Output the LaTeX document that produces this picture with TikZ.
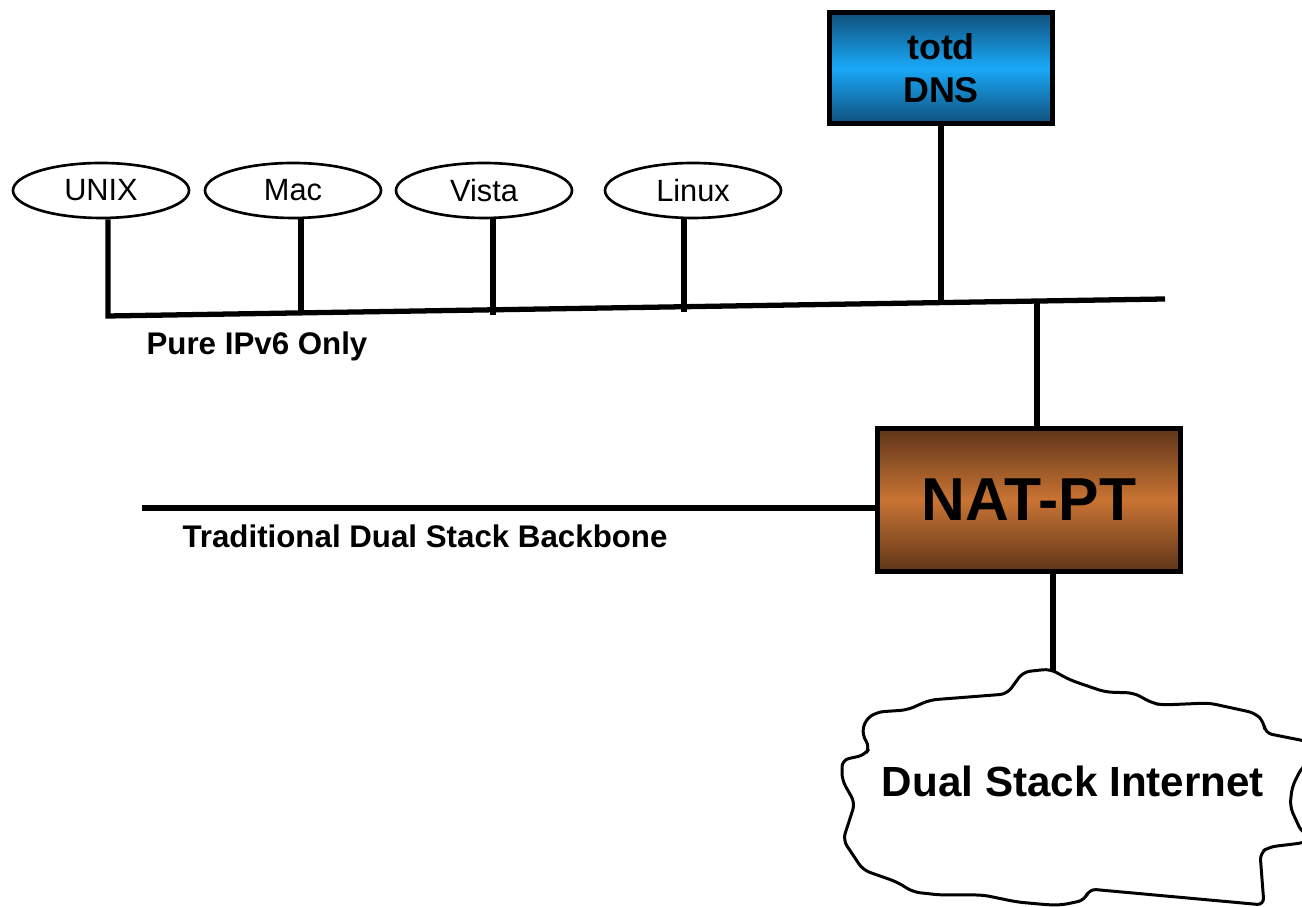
\documentclass[tikz,border=0pt]{standalone}
\usepackage{fontspec}
\setmainfont{Liberation Sans}
\usetikzlibrary{shapes.geometric,calc}
\definecolor{dnsedge}{HTML}{10507C}
\definecolor{dnsmid}{HTML}{1AA9F8}
\definecolor{natedge}{HTML}{5E3519}
\definecolor{natmid}{HTML}{C97433}
\tikzset{
  host/.style={draw, ellipse, line width=1.5pt, minimum width=3.52cm,
    minimum height=1.10cm, inner sep=0pt, font=\fontsize{17.5}{21}\selectfont},
  wire/.style={line width=3pt},
  netlabel/.style={anchor=base, font=\bfseries\fontsize{17.8}{21}\selectfont},
  dnsbox/.style={draw, line width=2.8pt, minimum width=4.46cm, minimum height=2.22cm,
    top color=dnsedge, bottom color=dnsedge, middle color=dnsmid,
    align=center, font=\bfseries\fontsize{20.4}{24.4}\selectfont},
  natbox/.style={draw, line width=2.8pt, minimum width=6.06cm, minimum height=2.86cm,
    top color=natedge, bottom color=natedge, middle color=natmid,
    font=\bfseries\fontsize{34.5}{40}\selectfont},
  cloudline/.style={line width=1.7pt, rounded corners=4pt}
}
\begin{document}
\begin{tikzpicture}
  \useasboundingbox (0,0) rectangle (26.04,18.14);

  % hosts
  \node[host] (unix)  at (2.02, 14.33) {UNIX};
  \node[host] (mac)   at (5.86, 14.33) {Mac};
  \node[host] (vista) at (9.68, 14.33) {Vista};
  \node[host] (linux) at (13.86, 14.33) {Linux};

  \node[dnsbox] (dns) at (18.82, 16.78) {totd\\DNS};
  \node[natbox] (nat) at (20.58, 8.14) {NAT-PT};

  % IPv6 segment
  \coordinate (busL) at (2.16, 11.82);
  \coordinate (busR) at (23.30, 12.16);
  \coordinate (tapM) at ($(busL)!0.1826!(busR)$);
  \coordinate (tapV) at ($(busL)!0.3642!(busR)$);
  \coordinate (tapL) at ($(busL)!0.5449!(busR)$);
  \coordinate (tapD) at ($(busL)!0.7881!(busR)$);
  \coordinate (tapN) at ($(busL)!0.8789!(busR)$);

  \draw[wire] (unix.south -| busL) -- (busL) -- (busR);
  \draw[wire] (mac.south -| tapM) -- (tapM);
  \draw[wire] (vista.south -| tapV) -- ([yshift=-0.1cm]tapV);
  \draw[wire] (linux.south -| tapL) -- ([yshift=-0.1cm]tapL);
  \draw[wire] (dns.south -| tapD) -- (tapD);
  \draw[wire] (tapN) -- (tapN |- nat.north);

  \node[netlabel] (v6lbl) at (5.14, 11.04) {Pure IPv6 Only};

  % backbone
  \coordinate (bbL) at (2.84, 7.98);
  \draw[wire] (bbL) -- (bbL -| nat.west);
  \node[netlabel] (bblbl) at (8.50, 7.18) {Traditional Dual Stack Backbone};

  % internet cloud
  \coordinate (cloudtop) at (21.06, 4.72);
  \draw[wire] (nat.south -| cloudtop) -- (cloudtop);
  \begin{scope}
    \clip (0,0) rectangle (26.04,18.14);
    \draw[cloudline] (20.46,4.70) -- (21.00,4.76) -- (21.40,4.54) -- (22.10,4.30)
      -- (22.68,4.28) -- (23.04,4.08) -- (23.24,4.04) -- (24.18,4.08) -- (25.10,3.88)
      -- (25.28,3.70) -- (25.30,3.48) -- (26.20,3.30) -- (26.40,3.04) -- (26.04,2.80)
      -- (25.84,2.40) -- (25.80,2.00) -- (26.04,1.48) -- (26.40,1.38) -- (26.04,1.28)
      -- (25.38,1.20) -- (25.20,1.08) -- (25.28,0.04) -- (21.78,0.36) -- (21.70,0.14)
      -- (21.24,0.04) -- (21.00,0.04) -- (20.34,0.10) -- (19.66,0.24) -- (18.80,0.24)
      -- (18.26,0.30) -- (17.94,0.50) -- (17.26,0.74) -- (17.06,1.04) -- (16.86,1.34)
      -- (17.10,2.08) -- (16.84,2.54) -- (16.84,2.94) -- (17.30,3.04) -- (17.40,3.20)
      -- (17.24,3.44) -- (17.30,3.74) -- (17.54,3.90) -- (18.14,3.94) -- (18.60,4.14)
      -- (20.14,4.26) -- cycle;
  \end{scope}
  \node[netlabel, font=\bfseries\fontsize{24}{28}\selectfont] (inet) at (21.46, 2.20) {Dual Stack Internet};
\end{tikzpicture}
\end{document}
